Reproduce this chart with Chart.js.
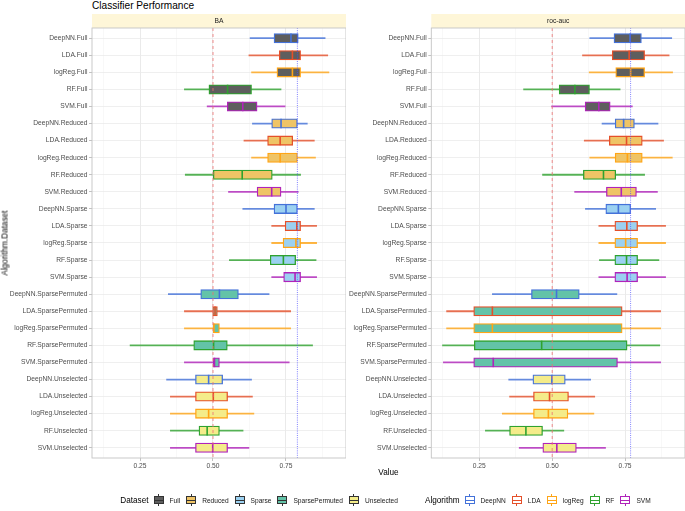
<!DOCTYPE html>
<html>
<head>
<meta charset="utf-8">
<script src="https://cdn.jsdelivr.net/npm/chart.js@4.4.0/dist/chart.umd.min.js"></script>
<style>
  body { margin: 0; width: 685px; height: 511px; position: relative; background: #fff; overflow: hidden;
         font-family: "Liberation Sans", Arial, sans-serif; }
  canvas { position: absolute; top: 0; }
  #title { position: absolute; left: 92px; top: 0px; font-size: 10.1px; color: #000; }
  #xlab { position: absolute; left: 92px; width: 593px; top: 468px; text-align: center; font-size: 8.2px; color: #000; }
  #ylab { position: absolute; left: 4.5px; top: 243px; font-size: 8.2px; color: #000; white-space: nowrap;
          transform: translate(-50%, -50%) rotate(-90deg); }
  #legend { position: absolute; left: 92px; width: 593px; top: 493px; height: 14px; display: flex;
            justify-content: center; align-items: center; font-size: 6.6px; color: #1a1a1a; }
  #legend .ttl { font-size: 8.2px; color: #000; margin-right: 5px; }
  #legend .lab { margin-left: 6px; margin-right: 6px; }
  #legend .gap { width: 21px; }
  .key { position: relative; display: inline-block; width: 10px; height: 12px; }
  .key i { position: absolute; display: block; }
  .key .box { left: 0; top: 2px; width: 10px; height: 8px; box-sizing: border-box; border: 1px solid; }
  .key .mid { left: 0; top: 5.5px; width: 10px; height: 1px; }
  .key .st { left: 4.5px; top: 0; width: 1px; height: 2px; }
  .key .sb { left: 4.5px; top: 10px; width: 1px; height: 2px; }
</style>
</head>
<body>
<div id="title">Classifier Performance</div>
<canvas id="baChart" width="346" height="511" style="left:0px"></canvas>
<canvas id="rocChart" width="339" height="511" style="left:346px"></canvas>
<div id="xlab">Value</div>
<div id="ylab">Algorithm.Dataset</div>
<div id="legend"></div>
<script>
const algorithms = ['DeepNN', 'LDA', 'logReg', 'RF', 'SVM'];
const dataSets = ['Full', 'Reduced', 'Sparse', 'SparsePermuted', 'Unselected'];
const categories = dataSets.flatMap(d => algorithms.map(a => a + '.' + d));

const algColors = ['#4472D9', '#E5502A', '#FFA516', '#2FA22F', '#B023BA'];
const setFills = ['#5e5e5e', '#EFC466', '#9BD1F1', '#63C3A8', '#F4EC8A'];

// BA panel (whisker low, Q1, median, Q3, whisker high)
const baLow  = [0.627, 0.623, 0.632, 0.402, 0.480, 0.635, 0.606, 0.632, 0.405, 0.553, 0.602, 0.701, 0.701, 0.556, 0.701, 0.347, 0.402, 0.402, 0.216, 0.402, 0.341, 0.354, 0.354, 0.354, 0.354];
const baQ1   = [0.709, 0.727, 0.719, 0.486, 0.549, 0.701, 0.687, 0.687, 0.501, 0.651, 0.709, 0.747, 0.740, 0.696, 0.742, 0.458, 0.499, 0.501, 0.434, 0.501, 0.440, 0.440, 0.440, 0.452, 0.440];
const baMed  = [0.767, 0.772, 0.772, 0.550, 0.602, 0.733, 0.730, 0.730, 0.600, 0.701, 0.750, 0.787, 0.784, 0.741, 0.781, 0.522, 0.507, 0.503, 0.502, 0.505, 0.485, 0.501, 0.485, 0.480, 0.499];
const baQ3   = [0.792, 0.800, 0.800, 0.632, 0.651, 0.789, 0.773, 0.789, 0.703, 0.733, 0.789, 0.800, 0.800, 0.783, 0.800, 0.587, 0.515, 0.522, 0.549, 0.522, 0.533, 0.550, 0.550, 0.522, 0.550];
const baHigh = [0.884, 0.893, 0.897, 0.733, 0.747, 0.823, 0.847, 0.851, 0.800, 0.792, 0.847, 0.855, 0.855, 0.853, 0.855, 0.692, 0.766, 0.766, 0.841, 0.761, 0.632, 0.635, 0.640, 0.603, 0.623];
const baRefs = [0.5, 0.789];

// roc-auc panel
const rocLow  = [0.629, 0.604, 0.627, 0.402, 0.498, 0.671, 0.610, 0.629, 0.467, 0.577, 0.614, 0.660, 0.660, 0.662, 0.660, 0.295, 0.138, 0.138, 0.124, 0.127, 0.351, 0.354, 0.329, 0.271, 0.387];
const rocQ1   = [0.712, 0.706, 0.718, 0.524, 0.613, 0.716, 0.696, 0.716, 0.607, 0.686, 0.684, 0.715, 0.715, 0.715, 0.715, 0.429, 0.231, 0.231, 0.233, 0.231, 0.434, 0.436, 0.436, 0.354, 0.468];
const rocMed  = [0.767, 0.764, 0.769, 0.578, 0.660, 0.745, 0.755, 0.758, 0.676, 0.737, 0.727, 0.756, 0.752, 0.755, 0.757, 0.515, 0.295, 0.295, 0.464, 0.298, 0.499, 0.491, 0.487, 0.410, 0.516];
const rocQ3   = [0.806, 0.817, 0.817, 0.628, 0.699, 0.782, 0.809, 0.809, 0.718, 0.789, 0.769, 0.793, 0.793, 0.793, 0.793, 0.593, 0.740, 0.740, 0.757, 0.724, 0.545, 0.556, 0.554, 0.467, 0.583];
const rocHigh = [0.910, 0.901, 0.913, 0.733, 0.775, 0.863, 0.882, 0.912, 0.817, 0.861, 0.855, 0.889, 0.889, 0.866, 0.889, 0.722, 0.872, 0.872, 0.869, 0.872, 0.632, 0.646, 0.643, 0.540, 0.683];
const rocRefs = [0.5, 0.769];

const xMin = 0.0856, xMax = 0.9555;
const xMajor = [0.25, 0.5, 0.75];
const FONT = '"Liberation Sans", Arial, sans-serif';

function alpha(hex, a) {
  const n = parseInt(hex.slice(1), 16);
  return `rgba(${n >> 16}, ${(n >> 8) & 255}, ${n & 255}, ${a})`;
}

function makePanel(canvasId, strip, low, q1, med, q3, high, refs, axisWidth) {
  const strokes = categories.map((_, i) => algColors[i % 5]);
  const fills = categories.map((_, i) => setFills[Math.floor(i / 5)]);

  // strip, medians, reference lines and panel border
  const decor = {
    id: 'decor_' + canvasId,
    beforeDraw(chart) {
      const a = chart.chartArea, ctx = chart.ctx;
      ctx.save();
      ctx.fillStyle = '#FEF6D8';
      ctx.fillRect(a.left, a.top - 14, a.right - a.left, 14);
      ctx.fillStyle = '#1a1a1a';
      ctx.font = '6.7px ' + FONT;
      ctx.textAlign = 'center';
      ctx.textBaseline = 'middle';
      ctx.fillText(strip, (a.left + a.right) / 2, a.top - 7);
      ctx.restore();
    },
    afterDatasetsDraw(chart) {
      const a = chart.chartArea, ctx = chart.ctx;
      const xs = chart.scales.x, ys = chart.scales.y;
      ctx.save();
      ctx.lineWidth = 1.6;
      med.forEach((m, i) => {
        const x = xs.getPixelForValue(m), y = ys.getPixelForValue(i);
        ctx.strokeStyle = strokes[i];
        ctx.beginPath();
        ctx.moveTo(x, y - 4.7);
        ctx.lineTo(x, y + 4.7);
        ctx.stroke();
      });
      // reference lines
      let x = xs.getPixelForValue(refs[0]);
      ctx.strokeStyle = '#EE7070';
      ctx.lineWidth = 0.8;
      ctx.setLineDash([3, 3]);
      ctx.beginPath(); ctx.moveTo(x, a.top); ctx.lineTo(x, a.bottom); ctx.stroke();
      x = xs.getPixelForValue(refs[1]);
      ctx.strokeStyle = '#4a4aff';
      ctx.lineWidth = 0.7;
      ctx.setLineDash([1, 1.2]);
      ctx.beginPath(); ctx.moveTo(x, a.top); ctx.lineTo(x, a.bottom); ctx.stroke();
      ctx.setLineDash([]);
      ctx.strokeStyle = '#c4c4c4';
      ctx.lineWidth = 0.9;
      ctx.strokeRect(a.left, a.top, a.right - a.left, a.bottom - a.top);
      ctx.restore();
    }
  };

  return new Chart(document.getElementById(canvasId), {
    type: 'bar',
    data: {
      datasets: [
        {
          label: 'box',
          data: categories.map((_, i) => ({ x: [q1[i], q3[i]], y: i })),
          backgroundColor: fills,
          borderColor: strokes,
          borderWidth: 1.3,
          borderSkipped: false,
          barThickness: 9.4,
          grouped: false,
          order: 1
        },
        {
          label: 'whisker',
          data: categories.map((_, i) => ({ x: [low[i], high[i]], y: i })),
          backgroundColor: strokes.map(c => alpha(c, 0.8)),
          borderWidth: 0,
          barThickness: 1.1,
          grouped: false,
          order: 2
        }
      ]
    },
    options: {
      indexAxis: 'y',
      responsive: false,
      animation: false,
      events: [],
      layout: { padding: { top: 28, bottom: 37, left: 0, right: 0 } },
      plugins: { legend: { display: false }, tooltip: { enabled: false }, title: { display: false } },
      scales: {
        x: {
          type: 'linear',
          min: xMin, max: xMax,
          afterFit: s => { s.height = 16; },
          border: { display: false },
          grid: {
            color: c => xMajor.includes(c.tick.value) ? '#e4e4e4' : '#f1f1f1',
            lineWidth: c => xMajor.includes(c.tick.value) ? 0.8 : 0.5,
            tickColor: c => xMajor.includes(c.tick.value) ? '#b3b3b3' : 'rgba(0,0,0,0)',
            tickLength: 3
          },
          ticks: {
            stepSize: 0.125,
            includeBounds: false,
            autoSkip: false,
            maxRotation: 0,
            padding: 1,
            color: '#4d4d4d',
            font: { family: FONT, size: 6.7 },
            callback: v => xMajor.includes(v) ? v.toFixed(2) : ''
          }
        },
        y: {
          type: 'linear',
          reverse: true,
          min: -0.6, max: 24.6,
          offset: false,
          afterFit: s => { s.width = axisWidth; },
          border: { display: false },
          grid: { offset: false, color: '#ebebeb', lineWidth: 0.8, tickColor: '#b3b3b3', tickLength: 3 },
          ticks: {
            stepSize: 1,
            includeBounds: false,
            autoSkip: false,
            padding: 1.5,
            color: '#4d4d4d',
            font: { family: FONT, size: 6.7 },
            callback: v => categories[v] || ''
          }
        }
      }
    },
    plugins: [decor]
  });
}

makePanel('baChart', 'BA', baLow, baQ1, baMed, baQ3, baHigh, baRefs, 92);
makePanel('rocChart', 'roc-auc', rocLow, rocQ1, rocMed, rocQ3, rocHigh, rocRefs, 85.3);

// legend: box keys for Dataset (fill) and Algorithm (outline)
const legend = document.getElementById('legend');
function addTitle(t) {
  const s = document.createElement('span'); s.className = 'ttl'; s.textContent = t; legend.appendChild(s);
}
function addItem(name, fill, stroke) {
  const k = document.createElement('span'); k.className = 'key';
  k.innerHTML = `<i class="st" style="background:${stroke}"></i>` +
    `<i class="box" style="background:${fill};border-color:${stroke}"></i>` +
    `<i class="mid" style="background:${stroke}"></i>` +
    `<i class="sb" style="background:${stroke}"></i>`;
  legend.appendChild(k);
  const l = document.createElement('span'); l.className = 'lab'; l.textContent = name; legend.appendChild(l);
}
addTitle('Dataset');
dataSets.forEach((d, i) => addItem(d, setFills[i], '#333333'));
const g = document.createElement('span'); g.className = 'gap'; legend.appendChild(g);
addTitle('Algorithm');
algorithms.forEach((a, i) => addItem(a, '#ffffff', algColors[i]));
</script>
</body>
</html>
